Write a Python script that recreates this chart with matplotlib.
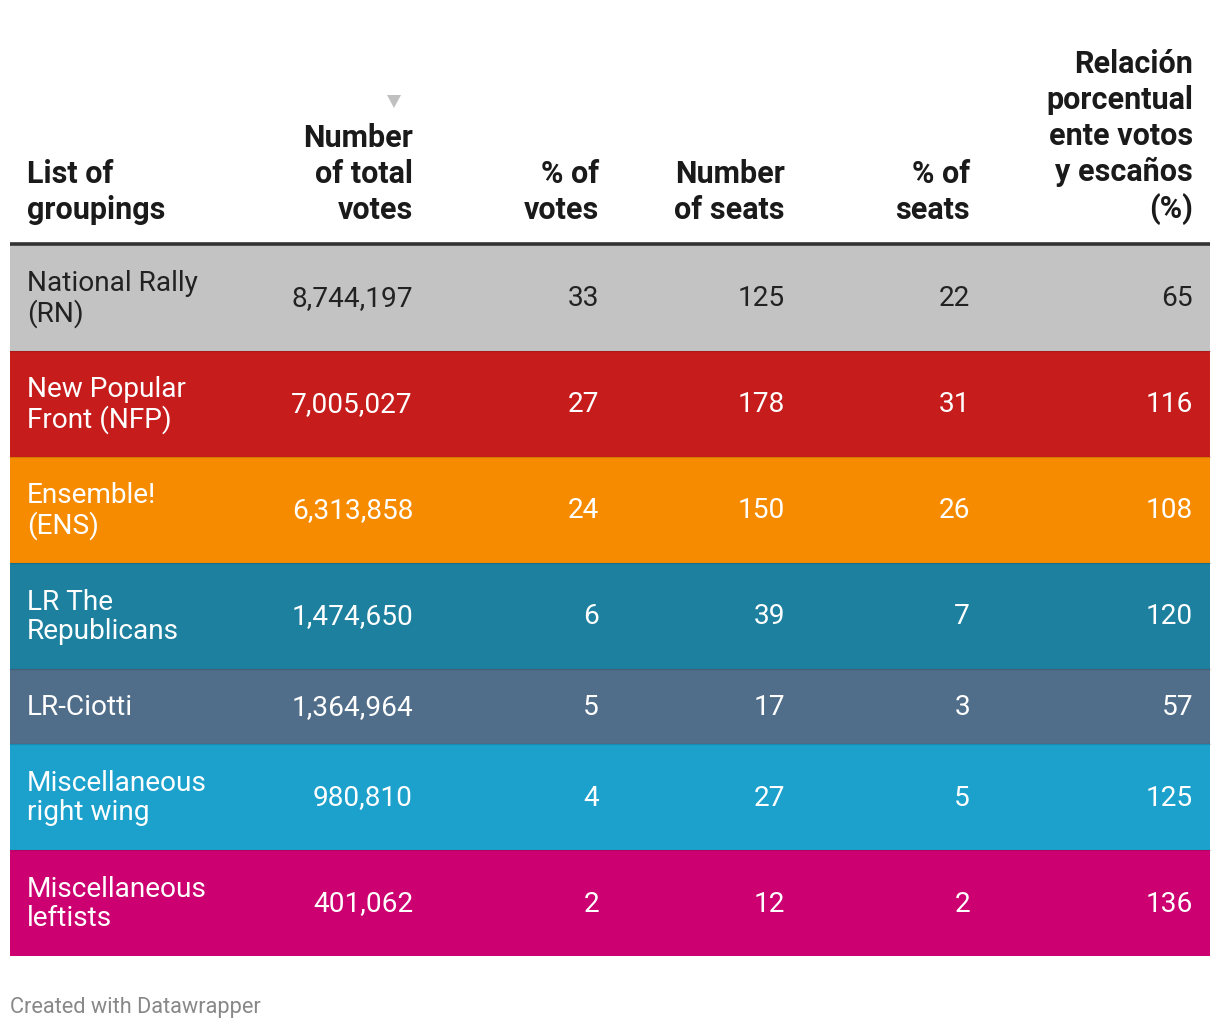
import matplotlib
matplotlib.use("Agg")
import matplotlib.pyplot as plt
from matplotlib.patches import Rectangle, Polygon

plt.rcParams['font.family'] = ['Roboto', 'DejaVu Sans']

# Table data
headers = ["List of\ngroupings", "Number\nof total\nvotes", "% of\nvotes",
           "Number\nof seats", "% of\nseats",
           "Relación\nporcentual\nente votos\ny escaños\n(%)"]
groupings = ["National Rally\n(RN)", "New Popular\nFront (NFP)", "Ensemble!\n(ENS)",
             "LR The\nRepublicans", "LR-Ciotti", "Miscellaneous\nright wing",
             "Miscellaneous\nleftists"]
total_votes = [8744197, 7005027, 6313858, 1474650, 1364964, 980810, 401062]
pct_votes = [33, 27, 24, 6, 5, 4, 2]
seats = [125, 178, 150, 39, 17, 27, 12]
pct_seats = [22, 31, 26, 7, 3, 5, 2]
ratio = [65, 116, 108, 120, 57, 125, 136]
row_colors = ["#c3c3c3", "#c71c1c", "#f78b00", "#1d809f", "#506e8a", "#1ba1cc", "#cc0070"]
text_colors = ["#222222"] + ["#ffffff"] * 6

W, H = 1220, 1030
fig = plt.figure(figsize=(W / 100, H / 100), dpi=100)
ax = fig.add_axes([0, 0, 1, 1])
ax.set_xlim(0, W)
ax.set_ylim(H, 0)
ax.axis("off")

left, right = 10, 1210
text_left = 27
col_right = [413, 599, 785, 970, 1193]
header_fs = 22
body_fs = 20.2

# header
header_base = 225
ax.text(text_left, header_base, headers[0], ha="left", va="bottom",
        fontsize=header_fs, fontweight="bold", color="#1a1a1a", linespacing=1.25)
for x, h in zip(col_right, headers[1:]):
    ax.text(x, header_base, h, ha="right", va="bottom", multialignment="right",
            fontsize=header_fs, fontweight="bold", color="#1a1a1a", linespacing=1.25)

# sort indicator
ax.add_patch(Polygon([[387, 95], [401, 95], [394, 108]], closed=True,
                     facecolor="#c0c0c0", edgecolor="none"))

# header rule
ax.plot([left, right], [243.5, 243.5], color="#333333", lw=2.6, solid_capstyle="butt")

# rows
y = 245
for i, name in enumerate(groupings):
    h = 106 if "\n" in name else 75
    ax.add_patch(Rectangle((left, y), right - left, h, facecolor=row_colors[i],
                           edgecolor="none"))
    if i > 0:
        ax.plot([left, right], [y, y], color="#000000", alpha=0.12, lw=1)
    cy = y + h / 2 + 1
    tc = text_colors[i]
    ax.text(text_left, cy, name, ha="left", va="center", fontsize=body_fs,
            color=tc, linespacing=1.14)
    vals = [f"{total_votes[i]:,}", str(pct_votes[i]), str(seats[i]),
            str(pct_seats[i]), str(ratio[i])]
    for x, v in zip(col_right, vals):
        ax.text(x, cy, v, ha="right", va="center", fontsize=body_fs, color=tc)
    y += h

ax.text(10, 1008, "Created with Datawrapper", ha="left", va="center",
        fontsize=15.7, color="#888888")

fig.savefig("out.png", dpi=100)
